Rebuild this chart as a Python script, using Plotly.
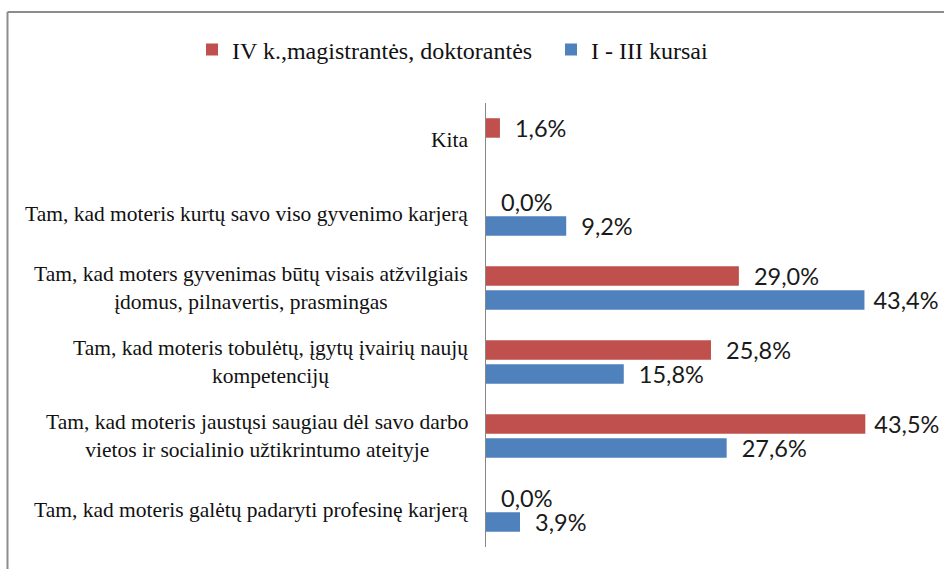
import plotly.graph_objects as go

# Data (top-to-bottom in the reference; reversed for plotting bottom-to-top)
categories = [
    "Kita",
    "Tam, kad moteris kurtų savo viso gyvenimo karjerą",
    "Tam, kad moters gyvenimas būtų visais atžvilgiais<br>įdomus, pilnavertis, prasmingas",
    "Tam, kad moteris tobulėtų, įgytų įvairių naujų<br>kompetencijų",
    "Tam, kad moteris jaustųsi saugiau dėl savo darbo<br>vietos ir socialinio užtikrintumo ateityje",
    "Tam, kad moteris galėtų padaryti profesinę karjerą",
]
series_names = ["IV k.,magistrantės, doktorantės", "I - III kursai"]
values_iv = [1.6, 0.0, 29.0, 25.8, 43.5, 0.0]      # red
values_i_iii = [None, 9.2, 43.4, 15.8, 27.6, 3.9]   # blue

cats = categories[::-1]
iv = values_iv[::-1]
i3 = values_i_iii[::-1]

RED = "#C0504D"
BLUE = "#4F81BD"

W, H = 944, 569
L, R, T, B = 486, 22, 103, 22
pw, ph = W - L - R, H - T - B


def fmt(v):
    if v is None:
        return ""
    pad = "\u00a0" if v > 40 else "\u00a0\u00a0"
    return pad + f"{v:.1f}".replace(".", ",") + "%"


label_font = dict(family="Lato", size=23.5, color="#1a1a1a")

fig = go.Figure()
fig.add_trace(go.Bar(
    y=cats, x=i3, orientation="h", name=series_names[1],
    marker=dict(color=BLUE, line=dict(width=0)),
    text=[fmt(v) for v in i3], textposition="outside",
    textfont=label_font, constraintext="none", cliponaxis=False,
))
fig.add_trace(go.Bar(
    y=cats, x=iv, orientation="h", name=series_names[0],
    marker=dict(color=RED, line=dict(width=0)),
    text=[fmt(v) for v in iv], textposition="outside",
    textfont=label_font, constraintext="none", cliponaxis=False,
))

# Category labels as centered multi-line annotations
for c in cats:
    fig.add_annotation(
        x=0, xref="paper", y=c, yref="y", text=c, showarrow=False,
        xanchor="right", yanchor="middle", align="center", xshift=-16,
        font=dict(family="Liberation Serif", size=21.5, color="#111111"),
    )


def px_x(px):
    return (px - L) / pw


def px_y(py):
    return (H - B - py) / ph


# Chart frame (top and left edges)
frame = dict(color="#8C8C8C", width=2)
fig.add_shape(type="line", xref="paper", yref="paper",
              x0=px_x(7.5), x1=px_x(W + 2), y0=px_y(12), y1=px_y(12), line=frame)
fig.add_shape(type="line", xref="paper", yref="paper",
              x0=px_x(7.5), x1=px_x(7.5), y0=px_y(12), y1=px_y(H + 2), line=frame)

fig.update_layout(
    width=W, height=H,
    margin=dict(l=L, r=R, t=T, b=B),
    paper_bgcolor="white", plot_bgcolor="white",
    barmode="group", bargap=0.35, bargroupgap=0.19,
    showlegend=True,
    legend=dict(
        orientation="h", traceorder="reversed",
        x=px_x(192), xanchor="left", y=px_y(50), yanchor="middle",
        font=dict(family="Liberation Serif", size=24, color="#111111"),
        entrywidth=314, entrywidthmode="pixels",
        bgcolor="rgba(0,0,0,0)",
    ),
    xaxis=dict(range=[0, 50], visible=False, showgrid=False, zeroline=False),
    yaxis=dict(
        categoryorder="array", categoryarray=cats,
        showticklabels=False, showgrid=False, zeroline=False,
        showline=True, linecolor="#868686", linewidth=1, ticks="",
    ),
)

fig.write_html(
    "out.html",
    config={"displayModeBar": False},
    post_script="document.body.style.margin='0';document.body.style.overflow='hidden';",
)
